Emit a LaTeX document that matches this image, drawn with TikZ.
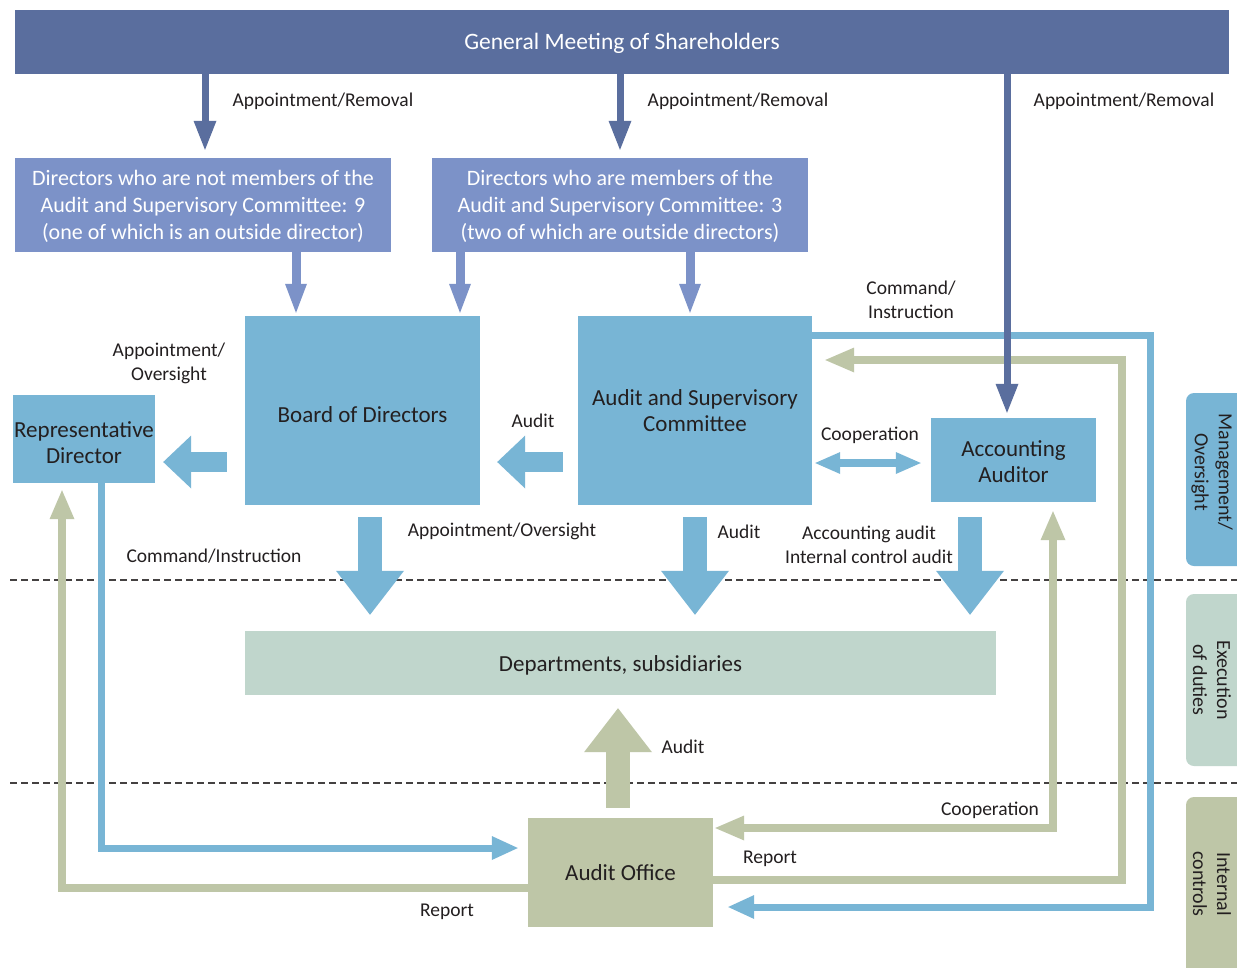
\documentclass[tikz,border=0pt]{standalone}
\usepackage{fontspec}
\setmainfont{Carlito}
\usetikzlibrary{arrows.meta,calc}
\definecolor{gmblue}{HTML}{5A6E9E}
\definecolor{dirblue}{HTML}{7C92C8}
\definecolor{lblue}{HTML}{78B5D5}
\definecolor{deptgreen}{HTML}{C0D6CC}
\definecolor{olive}{HTML}{BEC6A7}
\definecolor{txt}{HTML}{231F20}
\newcommand\labfont{\fontsize{19.5}{24}\selectfont}
\newcommand\bxfont{\fontsize{23}{26}\selectfont}
\newcommand\dirfont{\fontsize{22}{27}\selectfont}
\newcommand\gmfont{\fontsize{23.5}{28}\selectfont}
\newcommand\tabfont{\fontsize{20}{24}\selectfont}
\newcommand\sh[1]{\rule{0pt}{#1pt}}
\newcommand\sd[1]{\rule[-#1pt]{0pt}{#1pt}}
\tikzset{
  box/.style={inner sep=0pt, align=center, text=txt},
  lab/.style={inner sep=0pt, align=center, text=txt, font=\labfont, yshift=-1.5pt},
  gmarr/.style={draw=gmblue, line width=7pt, -{Triangle[width=23pt,length=29pt,line width=0pt]}},
  dirarr/.style={draw=dirblue, line width=9pt, -{Triangle[width=22pt,length=29pt,line width=0pt]}},
  sideblock/.style={draw=lblue, line width=20pt, -{Triangle[width=53pt,length=28pt,line width=0pt]}},
  downblock/.style={line width=24pt, -{Triangle[width=68pt,length=44pt,line width=0pt]}},
  bluecon/.style={draw=lblue, line width=7pt, line join=miter, -{Triangle[width=24pt,length=26pt,line width=0pt]}},
  olivecon/.style={draw=olive, line width=8pt, line join=miter, -{Triangle[width=25pt,length=29pt,line width=0pt]}},
  dashline/.style={draw=txt!85, line width=1.2pt, dash pattern=on 7pt off 4pt},
  tabbox/.style={rounded corners=8pt},
  tabtext/.style={inner sep=0pt, align=center, text=txt, font=\tabfont, rotate=-90}
}
\begin{document}
\begin{tikzpicture}[x=1pt,y=-1pt]
\clip (0,0) rectangle (1237,967);
\fill[white] (0,0) rectangle (1237,967);

% dashed separators
\draw[dashline] (10,580) -- (1237,580);
\draw[dashline] (10,783) -- (1237,783);

% side tabs
\fill[lblue, tabbox] (1186,393) rectangle (1262,566);
\node[tabtext] (tab1) at (1212,472) {Management/\\Oversight};
\fill[deptgreen, tabbox] (1186,594) rectangle (1262,766);
\node[tabtext] (tab2) at (1212,680) {Execution\\of duties};
\fill[olive, tabbox] (1186,797) rectangle (1262,990);
\node[tabtext] (tab3) at (1212,884) {Internal\\controls};

% nodes
\node[box, fill=gmblue, text=white, font=\gmfont, minimum width=1214pt, minimum height=64pt] (gm) at (622,42) {\sh{23.1}\sd{8}General Meeting of Shareholders};
\node[box, fill=dirblue, text=white, font=\dirfont, minimum width=376pt, minimum height=94pt] (d1) at (203,205)
  {\sh{22.2}Directors who are not members of the\\Audit and Supervisory Committee: 9\\(one of which is an outside director)\sd{8}};
\node[box, fill=dirblue, text=white, font=\dirfont, minimum width=376pt, minimum height=94pt] (d2) at (620,205)
  {\sh{22.2}Directors who are members of the\\Audit and Supervisory Committee: 3\\(two of which are outside directors)\sd{8}};
\node[box, fill=lblue, font=\bxfont, minimum width=235pt, minimum height=189pt] (board) at (362.5,410.5) {\sh{31.8}\sd{8}Board of Directors};
\node[box, fill=lblue, font=\bxfont, minimum width=234pt, minimum height=189pt] (asc) at (695,410.5) {Audit and Supervisory\\Committee};
\node[box, fill=lblue, font=\bxfont, minimum width=142pt, minimum height=88pt] (rep) at (84,439) {\sh{30.8}Representative\\Director\sd{8}};
\node[box, fill=lblue, font=\bxfont, minimum width=165pt, minimum height=84pt] (aa) at (1013.5,460) {\sh{27.8}Accounting\\Auditor\sd{8}};
\node[box, fill=deptgreen, font=\bxfont, minimum width=751pt, minimum height=64pt] (dept) at (620.5,663) {\sh{24.8}\sd{8}Departments, subsidiaries};
\node[box, fill=olive, font=\bxfont, minimum width=185pt, minimum height=109pt] (ao) at (620.5,872.5) {\sh{23.8}\sd{8}Audit Office};

% long connectors
\draw[bluecon] ($(rep.south)+(17,0)$) |- ($(ao.west)+(-10,-24.5)$);
\draw[olivecon] ($(ao.west)+(0,15.5)$) -| ($(rep.south)+(-22,7)$);
\draw[bluecon] ($(asc.east)+(0,-75.5)$) -| ($(ao.east)+(437,34.5)$) -- ($(ao.east)+(15,34.5)$);
\draw[olivecon] ($(ao.east)+(0,7.5)$) -| ($(asc.east)+(310,-50.5)$) -- ($(asc.east)+(13,-50.5)$);
\draw[olivecon, {Triangle[width=25pt,length=29pt,line width=0pt]}-{Triangle[width=25pt,length=29pt,line width=0pt]}]
  ($(aa.south)+(39.5,9)$) |- ($(ao.east)+(2,-44.5)$);

% appointment arrows from the general meeting
\coordinate (g1) at ($(d1.north)+(2,-8)$);
\coordinate (g2) at ($(d2.north)+(0,-8)$);
\coordinate (g3) at ($(aa.north)+(-6.5,-5)$);
\draw[gmarr] (gm.south -| g1) -- (g1);
\draw[gmarr] (gm.south -| g2) -- (g2);
\draw[gmarr] (gm.south -| g3) -- (g3);

% director arrows
\coordinate (b1) at ($(board.north)+(-66.5,-3)$);
\coordinate (b2) at ($(board.north)+(97.5,-3)$);
\coordinate (b3) at ($(asc.north)+(-5,-3)$);
\draw[dirarr] (d1.south -| b1) -- (b1);
\draw[dirarr] (d2.south -| b2) -- (b2);
\draw[dirarr] (d2.south -| b3) -- (b3);

% side block arrows
\draw[sideblock] ($(board.west)+(-18,51.5)$) -- ($(rep.east)+(8,23)$);
\draw[sideblock] ($(asc.west)+(-15,51.5)$) -- ($(board.east)+(17,51.5)$);

% cooperation double arrow
\draw[draw=lblue, line width=8pt, {Triangle[width=22pt,length=25pt,line width=0pt]}-{Triangle[width=22pt,length=25pt,line width=0pt]}]
  ($(asc.east)+(3,52.5)$) -- ($(aa.west)+(-10,3)$);

% down block arrows
\coordinate (s1) at ($(board.south)+(7.5,12)$);
\coordinate (s2) at ($(asc.south)+(0,12)$);
\coordinate (s3) at ($(aa.south)+(-43.5,15)$);
\draw[downblock, draw=lblue] (s1) -- ($(dept.north -| s1)+(0,-16)$);
\draw[downblock, draw=lblue] (s2) -- ($(dept.north -| s2)+(0,-16)$);
\draw[downblock, draw=lblue] (s3) -- ($(dept.north -| s3)+(0,-16)$);
\draw[downblock, draw=olive] ($(ao.north)+(-2.5,-10)$) -- ($(dept.south)+(-2.5,13)$);

% labels
\node[lab] at (323,100) {Appointment/Removal};
\node[lab] at (738,100) {Appointment/Removal};
\node[lab] at (1124,100) {Appointment/Removal};
\node[lab] at (169,362) {Appointment/\\Oversight};
\node[lab] at (533,419) {Audit};
\node[lab] at (911,298) {Command/\\Instruction};
\node[lab] at (870,434) {Cooperation};
\node[lab] at (502,530) {Appointment/Oversight};
\node[lab] at (739,530) {Audit};
\node[lab] at (869,543) {Accounting audit\\Internal control audit};
\node[lab] at (214,555) {Command/Instruction};
\node[lab] at (683,745) {Audit};
\node[lab] at (990,809) {Cooperation};
\node[lab] at (770,857) {Report};
\node[lab] at (447,910) {Report};
\end{tikzpicture}
\end{document}
